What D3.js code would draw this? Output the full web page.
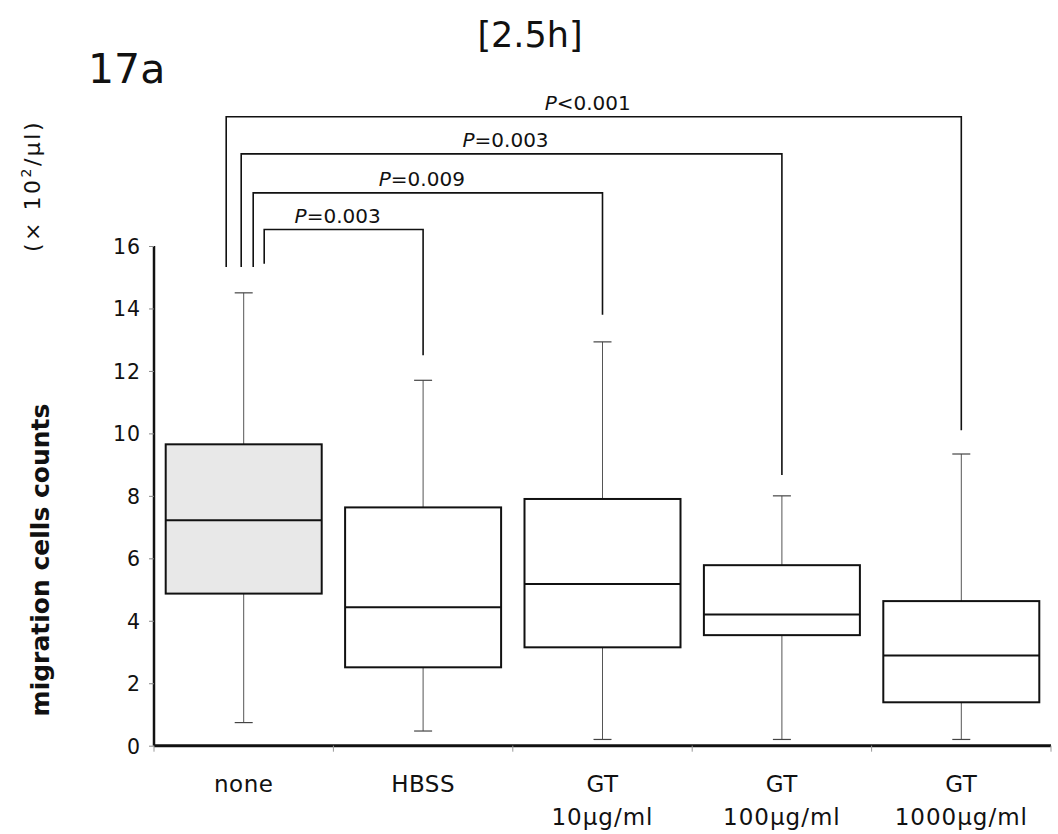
<!DOCTYPE html>
<html>
<head>
<meta charset="utf-8">
<script src="https://d3js.org/d3.v7.min.js"></script>
<style>
  body { margin: 0; background: #fff; }
  svg text { font-family: "DejaVu Sans", sans-serif; fill: #111; }
</style>
</head>
<body>
<svg class="chart-svg"></svg>
<script>
// groups and labels
var groups = ["none", "HBSS", "GT10", "GT100", "GT1000"];
var labelTop = ["none", "HBSS", "GT", "GT", "GT"];
var labelBottom = ["", "", "10\u03bcg/ml", "100\u03bcg/ml", "1000\u03bcg/ml"];

// box stats (x10^2/ul)
var whiskerLow = [0.74, 0.47, 0.2, 0.2, 0.2];
var q1 = [4.87, 2.51, 3.15, 3.54, 1.39];
var median = [7.22, 4.43, 5.18, 4.2, 2.89];
var q3 = [9.65, 7.63, 7.9, 5.78, 4.63];
var whiskerHigh = [14.5, 11.7, 12.93, 8.0, 9.34];

var yTicks = [0, 2, 4, 6, 8, 10, 12, 14, 16];

// significance brackets: none vs target
var pTargets = ["HBSS", "GT10", "GT100", "GT1000"];
var pLabels = ["=0.003", "=0.009", "=0.003", "<0.001"];
var pLevel = [16.53, 17.7, 18.95, 20.14];
var pLeftEnd = [15.43, 15.33, 15.33, 15.33];
var pRightEnd = [12.5, 13.8, 8.67, 10.1];

drawChart();

function drawChart() {
  var W = 1058, H = 834;
  var svg = d3.select(".chart-svg").attr("width", W).attr("height", H);

  var x = d3.scaleBand().domain(groups).range([154, 1051]);
  var y = d3.scaleLinear().domain([0, 16]).range([745.7, 246]);
  var boxW = 156;

  // titles
  svg.append("text").attr("x", 530).attr("y", 47)
    .attr("text-anchor", "middle").style("font-size", "35px").text("[2.5h]");
  svg.append("text").attr("x", 88).attr("y", 83)
    .style("font-size", "41px").text("17a");

  // y axis
  var yAxis = d3.axisLeft(y).tickValues(yTicks).tickSize(5).tickPadding(8);
  var gy = svg.append("g").attr("transform", "translate(154,0)").call(yAxis);
  gy.select(".domain").attr("stroke", "#111").attr("stroke-width", 2.5).attr("d", "M0," + y(16) + "V" + y(0));
  gy.selectAll(".tick line").attr("stroke", "#888");
  gy.selectAll(".tick text").attr("dy", "0.36em")
    .style("font-size", "20.5px").style("letter-spacing", "1px").style("font-family", "DejaVu Sans").attr("fill", "#111");

  // x axis
  var xAxis = d3.axisBottom(x).tickSize(0).tickFormat("");
  var gx = svg.append("g").attr("transform", "translate(0," + y(0) + ")").call(xAxis);
  gx.select(".domain").attr("stroke", "#111").attr("stroke-width", 3).attr("d", "M154,0H1051");
  // band boundary ticks
  var bounds = groups.map(function(g) { return x(g); }).concat([x.range()[1]]);
  gx.selectAll(".bt").data(bounds).enter().append("line")
    .attr("x1", function(d) { return d; }).attr("x2", function(d) { return d; })
    .attr("y1", 0).attr("y2", 6).attr("stroke", "#999").attr("stroke-width", 1);

  // x labels
  groups.forEach(function(g, i) {
    var cx = x(g) + x.bandwidth() / 2;
    svg.append("text").attr("x", cx).attr("y", 792).attr("text-anchor", "middle")
      .style("font-size", "23px").style("letter-spacing", "0.5px").text(labelTop[i]);
    if (labelBottom[i]) {
      svg.append("text").attr("x", cx).attr("y", 825).attr("text-anchor", "middle")
        .style("font-size", "23px").style("letter-spacing", "1px").text(labelBottom[i]);
    }
  });

  // boxes
  var boxes = svg.selectAll(".box").data(groups).enter().append("g").attr("class", "box");
  boxes.each(function(g, i) {
    var sel = d3.select(this);
    var cx = x(g) + x.bandwidth() / 2;
    // whiskers
    sel.append("line").attr("x1", cx).attr("x2", cx)
      .attr("y1", y(whiskerHigh[i])).attr("y2", y(q3[i]))
      .attr("stroke", "#555").attr("stroke-width", 1);
    sel.append("line").attr("x1", cx).attr("x2", cx)
      .attr("y1", y(q1[i])).attr("y2", y(whiskerLow[i]))
      .attr("stroke", "#555").attr("stroke-width", 1);
    [whiskerHigh[i], whiskerLow[i]].forEach(function(v) {
      sel.append("line").attr("x1", cx - 9).attr("x2", cx + 9)
        .attr("y1", y(v)).attr("y2", y(v))
        .attr("stroke", "#444").attr("stroke-width", 1.2);
    });
    sel.append("rect")
      .attr("x", cx - boxW / 2).attr("width", boxW)
      .attr("y", y(q3[i])).attr("height", y(q1[i]) - y(q3[i]))
      .attr("fill", i == 0 ? "#e8e8e8" : "#fff")
      .attr("stroke", "#111").attr("stroke-width", 2);
    sel.append("line").attr("x1", cx - boxW / 2).attr("x2", cx + boxW / 2)
      .attr("y1", y(median[i])).attr("y2", y(median[i]))
      .attr("stroke", "#111").attr("stroke-width", 2);
  });

  // significance brackets
  var leftOffsets = [20.5, 9.5, -2.5, -17.5];
  var cNone = x("none") + x.bandwidth() / 2;
  pTargets.forEach(function(t, i) {
    var lx = cNone + leftOffsets[i];
    var rx = x(t) + x.bandwidth() / 2;
    svg.append("path")
      .attr("d", "M" + lx + "," + y(pLeftEnd[i]) + "V" + y(pLevel[i]) + "H" + rx + "V" + y(pRightEnd[i]))
      .attr("fill", "none").attr("stroke", "#111").attr("stroke-width", 1.6);
    var txt = svg.append("text").attr("x", (lx + rx) / 2 - 6).attr("y", y(pLevel[i]) - 6.5)
      .attr("text-anchor", "middle").style("font-size", "20px");
    txt.append("tspan").style("font-style", "italic").text("P");
    txt.append("tspan").text(pLabels[i]);
  });

  // y axis titles
  svg.append("text").attr("transform", "translate(49,560) rotate(-90)")
    .attr("text-anchor", "middle").style("font-size", "25px").style("font-weight", "bold")
    .text("migration cells counts");
  var ut = svg.append("text").attr("transform", "translate(40,186) rotate(-90)")
    .attr("text-anchor", "middle").style("font-size", "22px").style("letter-spacing", "2.5px");
  ut.append("tspan").text("(\u00d7 10");
  ut.append("tspan").attr("dy", -9).style("font-size", "14px").text("2");
  ut.append("tspan").attr("dy", 9).text("/\u03bcl)");
}
</script>
</body>
</html>
